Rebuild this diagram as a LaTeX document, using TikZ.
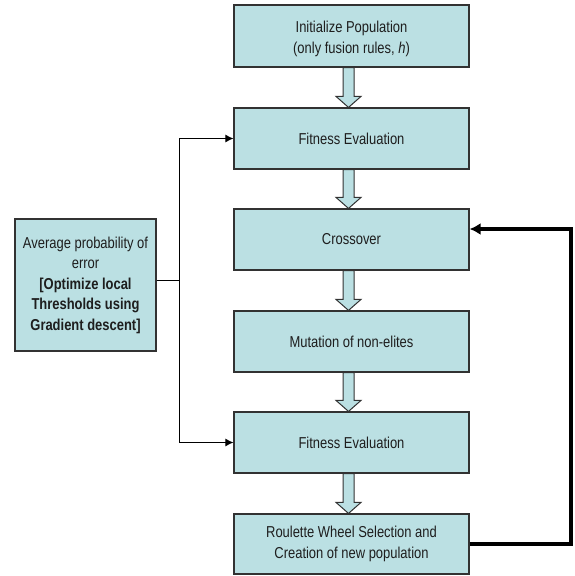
\documentclass[tikz,border=0pt]{standalone}
\usepackage{fontspec}
\setmainfont{Liberation Sans}[FakeStretch=0.82]
\usetikzlibrary{calc,arrows.meta}
\definecolor{boxfill}{RGB}{187,224,227}
\definecolor{boxline}{RGB}{50,50,50}
\definecolor{txt}{RGB}{30,30,30}
\tikzset{
  stage/.style={draw=boxline, line width=1.2pt, fill=boxfill, text=txt,
    minimum width=235pt, minimum height=61pt, inner sep=0pt, align=center,
    font=\fontsize{15.8}{20.5}\selectfont},
  barrow/.style={draw=boxline, line width=1pt, fill=boxfill, line join=miter},
  thinlink/.style={draw=black, line width=1pt,
    -{Latex[length=8pt,width=8pt]}},
  feedback/.style={draw=black, line width=4pt, line join=miter,
    -{Latex[length=11pt,width=12pt]}}
}
% hollow block arrow from the bottom of one stage to the top of the next
\newcommand{\blockarr}[2]{%
  \path[barrow] let \p1=(#1.south), \p2=(#2.north) in
    (\x1-8.5pt,\y1) -- (\x1-8.5pt,\y2+11pt) -- (\x1-15.5pt,\y2+11pt) --
    (\x1-3pt,\y2) -- (\x1+9.5pt,\y2+11pt) -- (\x1+2.5pt,\y2+11pt) --
    (\x1+2.5pt,\y1) -- cycle;}
\begin{document}
\begin{tikzpicture}[x=1pt,y=-1pt]
\useasboundingbox (0,0) rectangle (575,576);

\node[stage, minimum height=62pt] (b1) at (351.5,36) {};
\node[align=center, text=txt, inner sep=0pt, font=\fontsize{15.8}{21.5}\selectfont]
  (b1t) at ($(b1.center)+(0,3)$) {Initialize Population\\(only fusion rules, \textit{h})};
\node[stage] (b2) at (351.5,138.5) {Fitness Evaluation};
\node[stage] (b3) at (351.5,239.5) {Crossover};
\node[stage] (b4) at (351.5,341.5) {Mutation of non-elites};
\node[stage] (b5) at (351.5,442.5) {Fitness Evaluation};
\node[stage, minimum height=60pt] (b6) at (351.5,544)
  {Roulette Wheel Selection and\\Creation of new population};

\node[stage, minimum width=141pt, minimum height=132pt] (lb) at (85.5,285)
  {Average probability of\\error\\\textbf{[Optimize local}\\
   \textbf{Thresholds using}\\\textbf{Gradient descent]}};

\blockarr{b1}{b2}
\blockarr{b2}{b3}
\blockarr{b3}{b4}
\blockarr{b4}{b5}
\blockarr{b5}{b6}

% links from the threshold optimiser to both fitness evaluations
\coordinate (j) at (179,280);
\draw[line width=1pt] (lb.east |- j) -- (j);
\draw[thinlink] (j) |- (b2.west);
\draw[thinlink] (j) |- (b5.west);

% loop back from selection to crossover
\coordinate (rt) at (571,0);
\draw[feedback] (b6.east) -| ($(rt |- b3.east)+(0,-10.5)$) -- ($(b3.east)+(0,-10.5)$);
\end{tikzpicture}
\end{document}
